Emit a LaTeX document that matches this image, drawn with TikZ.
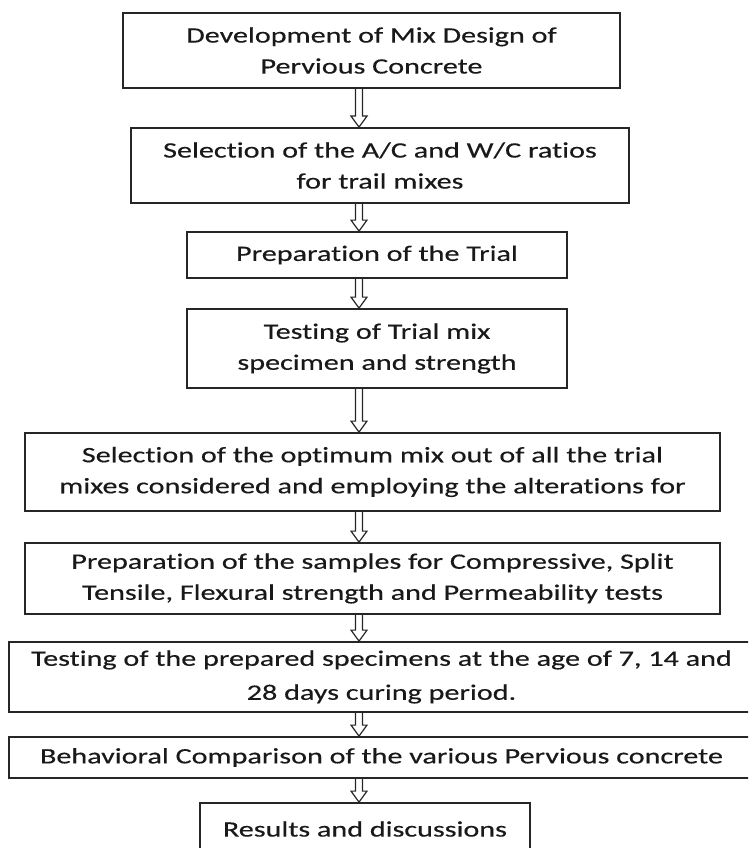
\documentclass[tikz,border=0pt]{standalone}
\usepackage{fontspec}
\setmainfont{Carlito}[FakeStretch=1.37, FakeBold=0.4, Ligatures=NoCommon]
\usetikzlibrary{calc}
\tikzset{
  box/.style={draw=black!85, line width=1.8pt, inner sep=0pt, align=center,
    text=black!90, font=\fontsize{22}{31}\selectfont},
  arrowline/.style={draw=black!85, line width=1.2pt, line join=miter},
}
\newcommand{\hollowarrow}[2]{%
  \draw[arrowline] let \p1=(#1.south), \p2=(#2.north) in
    (355.5pt,\y1) -- (355.5pt,\y2+11pt) -- (351pt,\y2+11pt) -- (359pt,\y2)
    -- (367pt,\y2+11pt) -- (362.5pt,\y2+11pt) -- (362.5pt,\y1);}
\begin{document}
\begin{tikzpicture}[x=1pt,y=-1pt]
\useasboundingbox (0,0) rectangle (748,848);
\clip (0,0) rectangle (748,848);
\node[box, minimum width=497pt, minimum height=75pt] (b1) at (371.5,50.5)
  {Development of Mix Design of\\Pervious Concrete};
\node[box, minimum width=498pt, minimum height=75pt] (b2) at (380,165.5)
  {Selection of the A/C and W/C ratios\\for trail mixes};
\node[box, minimum width=380pt, minimum height=46pt] (b3) at (377,255)
  {Preparation of the Trial};
\node[box, minimum width=380pt, minimum height=79pt] (b4) at (377,348.5)
  {Testing of Trial mix\\specimen and strength};
\node[box, minimum width=695pt, minimum height=78pt] (b5) at (372.5,472)
  {Selection of the optimum mix out of all the trial\\mixes considered and employing the alterations for};
\node[box, minimum width=695pt, minimum height=71pt] (b6) at (372.5,578.5)
  {Preparation of the samples for Compressive, Split\\Tensile, Flexural strength and Permeability tests};
\node[box, minimum width=745pt, minimum height=70pt,
  font=\fontsize{22}{34}\selectfont] (b7) at (381.5,677)
  {Testing of the prepared specimens at the age of 7, 14 and\\28 days curing period.};
\node[box, minimum width=745pt, minimum height=41pt] (b8) at (381.5,757.5)
  {Behavioral Comparison of the various Pervious concrete};
\node[box, minimum width=330pt, minimum height=52pt] (b9) at (365,829)
  {Results and discussions};
\hollowarrow{b1}{b2}
\hollowarrow{b2}{b3}
\hollowarrow{b3}{b4}
\hollowarrow{b4}{b5}
\hollowarrow{b5}{b6}
\hollowarrow{b6}{b7}
\hollowarrow{b7}{b8}
\hollowarrow{b8}{b9}
\end{tikzpicture}
\end{document}
